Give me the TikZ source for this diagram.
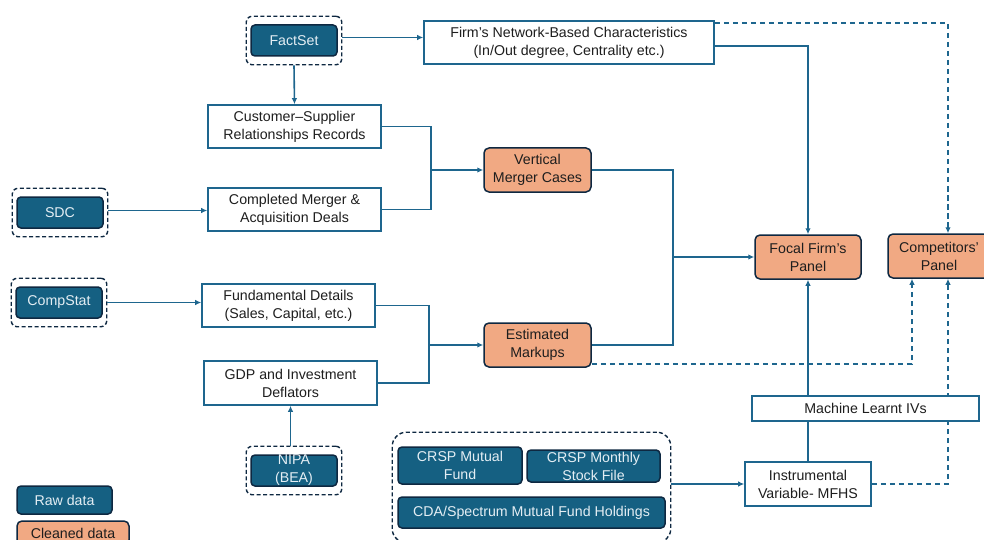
\documentclass[tikz,border=0pt]{standalone}
\usepackage{fontspec}
\setmainfont{Liberation Sans}
\usepackage{tikz}
\usetikzlibrary{positioning,arrows.meta,fit,backgrounds,calc}
\definecolor{rawcol}{RGB}{21,96,130}
\definecolor{rawborder}{RGB}{14,40,65}
\definecolor{cleancol}{RGB}{241,169,131}
\definecolor{linecol}{RGB}{30,102,142}
\definecolor{textcol}{RGB}{30,30,30}
\definecolor{rawtext}{RGB}{228,238,244}

\begin{document}
\begin{tikzpicture}[
                x=1pt, y=-1pt,
                font=\fontsize{14.2}{18}\selectfont,
                >={Latex[length=6pt,width=5.5pt]},
                rawbox/.style={rectangle, rounded corners=4pt, draw=rawborder, line width=1.5pt, fill=rawcol, text=rawtext, align=center, inner sep=2pt},
                cleanbox/.style={rectangle, rounded corners=5pt, draw=rawborder, line width=1.5pt, fill=cleancol, text=textcol, align=center, inner sep=2pt},
                stagebox/.style={rectangle, draw=linecol, line width=1.6pt, fill=white, text=textcol, align=center, inner sep=2pt},
                srcgroup/.style={rectangle, rounded corners=6pt, draw=rawborder, line width=1.4pt, dash pattern=on 4pt off 2.5pt, inner xsep=4pt, inner ysep=8pt},
                link/.style={draw=linecol, line width=1.6pt},
                arrow/.style={->, link},
                dasharrow/.style={->, link, dash pattern=on 5.5pt off 3.5pt}
                ]
                \useasboundingbox (0,0) rectangle (984,540);

                % raw sources
                \node[rawbox, minimum width=86, minimum height=31] (factset) at (294,40.5) {FactSet};
                \node[srcgroup, fit=(factset)] (factsetgrp) {};
                \node[rawbox, minimum width=86, minimum height=31] (sdc) at (60,212.5) {SDC};
                \node[srcgroup, fit=(sdc)] (sdcgrp) {};
                \node[rawbox, minimum width=86, minimum height=31] (compstat) at (59,302.5) {CompStat};
                \node[srcgroup, fit=(compstat)] (compstatgrp) {};
                \node[rawbox, minimum width=86, minimum height=31, inner ysep=-2pt] (nipa) at (294,470.5) {NIPA\\(BEA)};
                \node[srcgroup, fit=(nipa)] (nipagrp) {};

                \node[rawbox, minimum width=124, minimum height=37] (crspmf) at (460,465.5) {CRSP Mutual\\Fund};
                \node[rawbox, minimum width=133, minimum height=32, inner ysep=-2pt] (crspms) at (593.5,466) {CRSP Monthly\\Stock File};
                \node[rawbox, minimum width=267, minimum height=31] (cda) at (531.5,512.5) {CDA/Spectrum Mutual Fund Holdings};
                \node[srcgroup, rounded corners=14pt, inner xsep=5pt, inner ysep=14pt, fit=(crspmf)(crspms)(cda)] (crspgrp) {};

                % intermediate records
                \node[stagebox, minimum width=290, minimum height=43] (firmnet) at (569,42.5) {Firm’s Network-Based Characteristics\\(In/Out degree, Centrality etc.)};
                \node[stagebox, minimum width=173, minimum height=43] (custsup) at (294.5,126.5) {Customer–Supplier\\Relationships Records};
                \node[stagebox, minimum width=173, minimum height=43] (mergers) at (294.5,209.5) {Completed Merger \&\\Acquisition Deals};
                \node[stagebox, minimum width=173, minimum height=43] (fund) at (288.5,305.5) {Fundamental Details\\(Sales, Capital, etc.)};
                \node[stagebox, minimum width=173, minimum height=44] (gdp) at (290.5,383) {GDP and Investment\\Deflators};
                \node[stagebox, minimum width=126, minimum height=44] (instr) at (808,484) {Instrumental\\Variable- MFHS};

                % cleaned data
                \node[cleanbox, minimum width=107, minimum height=44] (vmc) at (537.5,170) {Vertical\\Merger Cases};
                \node[cleanbox, minimum width=107, minimum height=44] (markups) at (537.5,345) {Estimated\\Markups};
                \node[cleanbox, minimum width=106, minimum height=44] (focal) at (808,257) {Focal Firm’s\\Panel};
                \node[cleanbox, minimum width=102, minimum height=44] (comp) at (939,256) {Competitors’\\Panel};

                % legend
                \node[rawbox, minimum width=95, minimum height=28] (rawkey) at (64.5,500) {Raw data};
                \node[cleanbox, minimum width=112, minimum height=24] (cleankey) at (73,533) {Cleaned data};

                % connectors
                \draw[arrow] (factsetgrp.east) ++(0,-3) coordinate (fs) -- (fs -| firmnet.west);
                \draw[arrow] (factsetgrp.south) -- (custsup.north);
                \draw[arrow] (sdcgrp.east) ++(0,-2) coordinate (sd) -- (sd -| mergers.west);
                \draw[arrow] (compstatgrp.east) -- (compstatgrp.east -| fund.west);
                \draw[arrow] (nipagrp.north -| gdp.south) -- (gdp.south);

                \path (vmc.west) ++(-52,0) coordinate (vjoin);
                \draw[link] (custsup.east) -| (vjoin) |- (mergers.east);
                \draw[arrow] (vjoin) -- (vmc.west);

                \path (markups.west) ++(-54,0) coordinate (mjoin);
                \draw[link] (fund.east) -| (mjoin) |- (gdp.east);
                \draw[arrow] (mjoin) -- (markups.west);

                \path (focal.west) ++(-81,0) coordinate (fjoin);
                \draw[link] (vmc.east) -| (fjoin) |- (markups.east);
                \draw[arrow] (fjoin) -- (focal.west);

                \draw[arrow] ([yshift=-3.5pt]firmnet.east) -| (focal.north);
                \draw[dasharrow] ([yshift=-3pt]firmnet.north east) -| ([xshift=9pt]comp.north);
                \draw[dasharrow] ([yshift=4pt]markups.south east) -| ([xshift=-27pt]comp.south);
                \draw[arrow] (crspgrp.east |- instr.west) -- (instr.west);

                \node[stagebox, minimum width=227, minimum height=25] (mliv) at (865.5,408.5) {Machine Learnt IVs};
                \begin{scope}[on background layer]
                \draw[arrow] (instr.north) -- (focal.south);
                \draw[dasharrow] (instr.east) -| ([xshift=9pt]comp.south);
                \end{scope}
            \end{tikzpicture}
\end{document}
